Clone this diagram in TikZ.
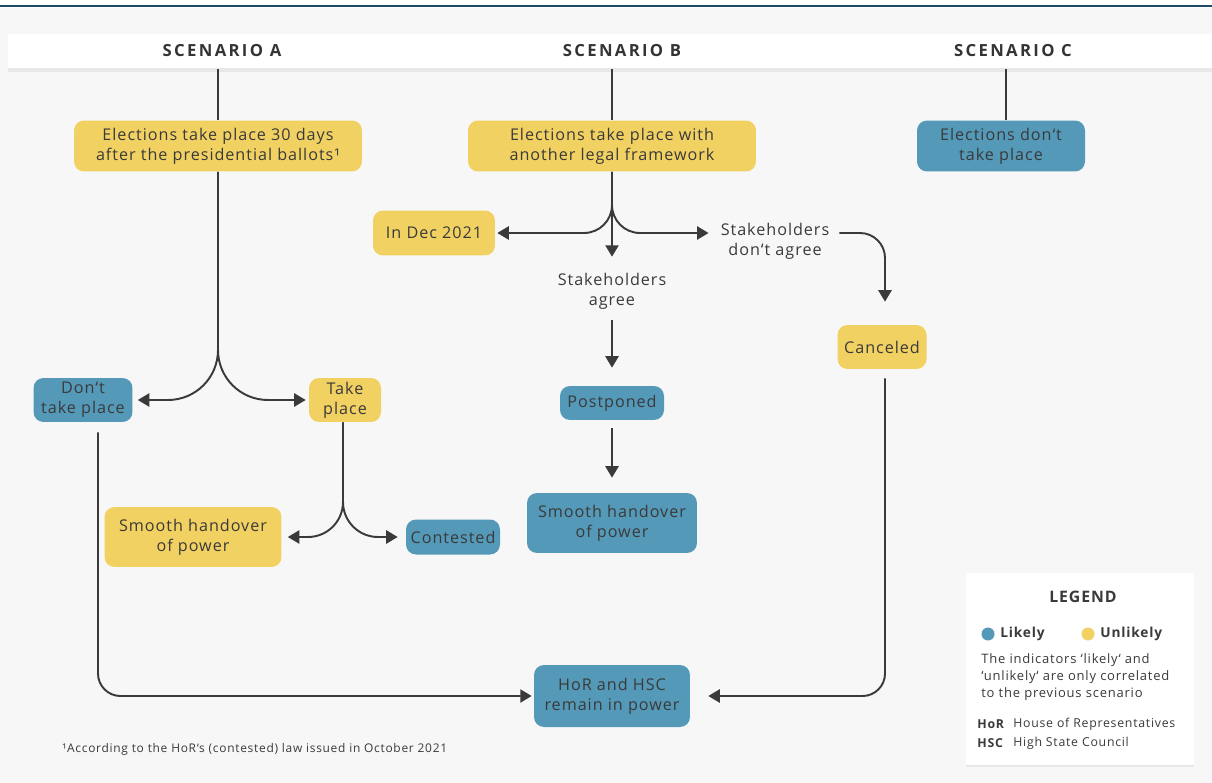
\documentclass[tikz,border=0pt]{standalone}
\usepackage{fontspec}
\setmainfont{Open Sans}[LetterSpace=6]
\newfontfamily\headfont{Open Sans}[LetterSpace=14]
\usetikzlibrary{arrows.meta, shadows}
\definecolor{likely}{HTML}{5499B8}
\definecolor{unlikely}{HTML}{F2D163}
\definecolor{ink}{HTML}{3A3A3A}
\definecolor{rulecol}{HTML}{1F4A63}
\definecolor{paper}{HTML}{F7F7F7}

\begin{document}
\begin{tikzpicture}[x=0.02cm, y=-0.02cm, text=ink, font=\fontsize{9.2}{11.4}\selectfont,
		box/.style={rounded corners=0.2cm, align=center, inner sep=0pt},
		lik/.style={box, fill=likely},
		unl/.style={box, fill=unlikely},
		head/.style={font=\headfont\bfseries\fontsize{9.5}{11}\selectfont, text=ink!90!black},
		conn/.style={draw=ink, line width=1.1pt, -{Triangle[length=6.5pt, width=7.5pt]}},
		small/.style={inner sep=0pt, anchor=west, align=left}]
		\useasboundingbox (0,0) rectangle (1212,783);
		\fill[paper] (0,8) rectangle (1212,783);
		\draw[rulecol, line width=1.2pt] (0,6) -- (1212,6);
		\node[fill=white, drop shadow={opacity=0.12, shadow xshift=0pt, shadow yshift=-2pt}, minimum width=24.08cm, minimum height=0.68cm, inner sep=0pt, anchor=north west] (band) at (8,34) {};
		\node[head] (sa) at (222,51) {SCENARIO A};
		\node[head] (sb) at (622,51) {SCENARIO B};
		\node[head] (sc) at (1013,51) {SCENARIO C};

		\node[unl, minimum width=5.76cm, minimum height=1.02cm] (a1) at (218,146) {Elections take place 30 days\\after the presidential ballots¹};
		\node[unl, minimum width=5.76cm, minimum height=1.02cm] (b1) at (612,146) {Elections take place with\\another legal framework};
		\node[lik, minimum width=3.36cm, minimum height=1.02cm] (c1) at (1001,146) {Elections don‘t\\take place};

		\node[lik, minimum width=1.98cm, minimum height=0.88cm] (dontA) at (83,400) {Don‘t\\take place};
		\node[unl, minimum width=1.44cm, minimum height=0.88cm] (takeA) at (345,400) {Take\\place};
		\node[unl, minimum width=3.54cm, minimum height=1.2cm] (smoothA) at (193,537) {Smooth handover\\of power};
		\node[lik, minimum width=1.88cm, minimum height=0.7cm] (contested) at (453,537) {Contested};

		\node[unl, minimum width=2.44cm, minimum height=0.9cm] (dec) at (434,233) {In Dec 2021};
		\node[align=center] (agree) at (612,291) {Stakeholders\\agree};
		\node[align=center] (disagree) at (775,241) {Stakeholders\\don‘t agree};
		\node[lik, minimum width=2.08cm, minimum height=0.68cm] (postponed) at (612,403) {Postponed};
		\node[lik, minimum width=3.4cm, minimum height=1.2cm] (smoothB) at (612,523) {Smooth handover\\of power};
		\node[unl, minimum width=1.78cm, minimum height=0.88cm] (cancel) at (882,347) {Canceled};

		\node[lik, minimum width=3.12cm, minimum height=1.24cm] (hor) at (612,696) {HoR and HSC\\remain in power};

		\draw[draw=ink, line width=1.1pt] (a1.north) -- (a1.north |- band.south);
		\draw[draw=ink, line width=1.1pt] (b1.north) -- (b1.north |- band.south);
		\draw[draw=ink, line width=1.1pt] ([xshift=0.1cm]c1.north) -- ([xshift=0.1cm]c1.north |- band.south);

		\draw[conn, rounded corners=1cm, shorten >=0.1cm] (a1.south) -- (a1.south |- dontA.east) -- (dontA.east);
		\draw[conn, rounded corners=1cm, shorten >=0.06cm] (a1.south) -- (a1.south |- takeA.west) -- (takeA.west);
		\draw[conn, rounded corners=0.7cm, shorten >=0.12cm] ([xshift=-0.04cm]takeA.south) -- ([xshift=-0.04cm]takeA.south |- smoothA.east) -- (smoothA.east);
		\draw[conn, rounded corners=0.7cm, shorten >=0.16cm] ([xshift=-0.04cm]takeA.south) -- ([xshift=-0.04cm]takeA.south |- contested.west) -- (contested.west);

		\draw[conn, rounded corners=0.56cm, shorten >=0.04cm] (b1.south) -- (b1.south |- dec.east) -- (dec.east);
		\draw[conn, shorten >=0.2cm] (b1.south) -- (agree.north);
		\draw[conn, rounded corners=0.56cm, shorten >=0.12cm] (b1.south) -- (b1.south |- dec.east) -- (dec.east -| disagree.west);
		\draw[conn, rounded corners=0.5cm, shorten <=0.08cm, shorten >=0.46cm] (dec.east -| disagree.east) -- ([xshift=0.06cm]dec.east -| cancel.north) -- ([xshift=0.06cm]cancel.north);
		\draw[conn, shorten <=0.1cm, shorten >=0.36cm] (agree.south) -- (postponed.north);
		\draw[conn, shorten <=0.16cm, shorten >=0.3cm] (postponed.south) -- (smoothB.north);

		\draw[conn, rounded corners=0.45cm, shorten >=0.04cm] ([xshift=0.3cm, yshift=-0.2cm]dontA.south) -- ([xshift=0.3cm]dontA.south |- hor.west) -- (hor.west);
		\draw[conn, rounded corners=0.45cm, shorten <=0.18cm, shorten >=0.36cm] ([xshift=0.06cm]cancel.south) -- ([xshift=0.06cm]cancel.south |- hor.east) -- (hor.east);

		\node[fill=white, drop shadow={opacity=0.12, shadow xshift=0pt, shadow yshift=-1pt}, minimum width=4.56cm, minimum height=3.84cm, inner sep=0pt, anchor=north west] (legend) at (966,573) {};
		\node[font=\bfseries\fontsize{9}{11}\selectfont] (leghead) at (1083,597) {LEGEND};
		\node[circle, fill=likely, minimum size=0.26cm, inner sep=0pt] (dotL) at (988,634) {};
		\node[small, font=\bfseries\fontsize{7.8}{9}\selectfont] (likelyLbl) at (1000,634) {Likely};
		\node[circle, fill=unlikely, minimum size=0.26cm, inner sep=0pt] (dotU) at (1088,634) {};
		\node[small, font=\bfseries\fontsize{7.8}{9}\selectfont] (unlikelyLbl) at (1100,634) {Unlikely};
		\node[small, font=\fontsize{7.4}{9.6}\selectfont] (legtext) at (981,677) {The indicators ‘likely‘ and\\‘unlikely‘ are only correlated\\to the previous scenario};
		\node[small, font=\bfseries\fontsize{7}{9}\selectfont] (horKey) at (977,724) {HoR};
		\node[small, font=\fontsize{7}{9}\selectfont] (horVal) at (1013,724) {House of Representatives};
		\node[small, font=\bfseries\fontsize{7}{9}\selectfont] (hscKey) at (977,743) {HSC};
		\node[small, font=\fontsize{7}{9}\selectfont] (hscVal) at (1013,743) {High State Council};

		\node[small, font=\fontsize{6.8}{8}\selectfont] (note) at (62,749) {¹According to the HoR‘s (contested) law issued in October 2021};
	\end{tikzpicture}
\end{document}
